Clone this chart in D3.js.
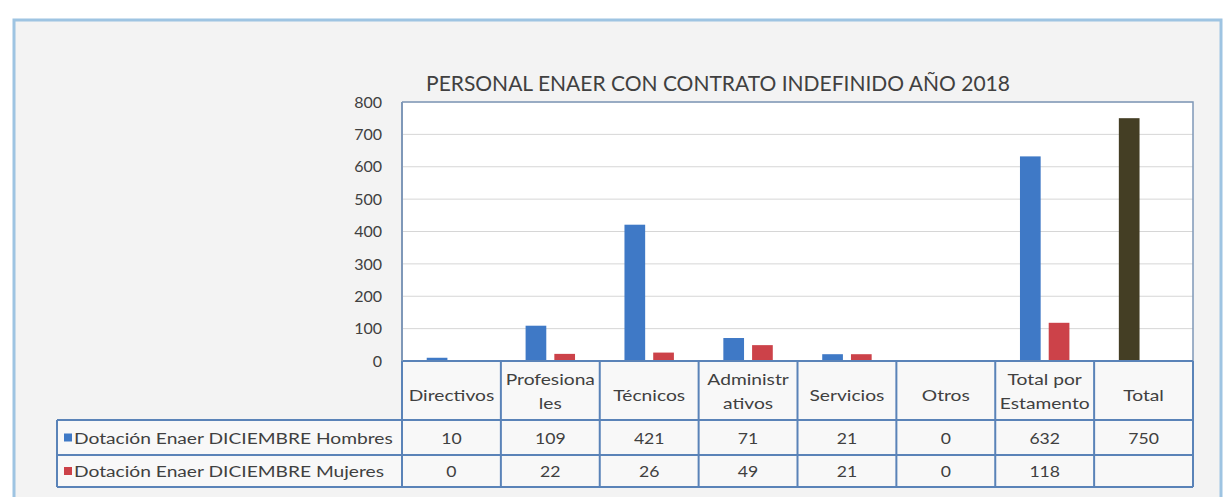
<!DOCTYPE html>
<html>
<head>
<meta charset="utf-8">
<script src="https://cdn.jsdelivr.net/npm/d3@7/dist/d3.min.js"></script>
<style>
  body { margin: 0; background: #fff; }
  svg { display: block; font-family: Lato, "Open Sans", sans-serif; }
</style>
</head>
<body>
<svg id="chart" width="1227" height="497"></svg>
<script>
// data
const title = 'PERSONAL ENAER CON CONTRATO INDEFINIDO AÑO 2018';
const categories = ['Directivos', 'Profesionales', 'Técnicos', 'Administrativos', 'Servicios', 'Otros', 'Total por Estamento', 'Total'];
const categoryLines = [['Directivos'], ['Profesiona', 'les'], ['Técnicos'], ['Administr', 'ativos'], ['Servicios'], ['Otros'], ['Total por', 'Estamento'], ['Total']];
const seriesNames = ['Dotación Enaer DICIEMBRE Hombres', 'Dotación Enaer DICIEMBRE Mujeres'];
const hombres = [10, 109, 421, 71, 21, 0, 632, 750];
const mujeres = [0, 22, 26, 49, 21, 0, 118, null];
const yTicks = [0, 100, 200, 300, 400, 500, 600, 700, 800];

const colors = ['#3f79c6', '#cc4249'];
const totalColor = '#443e24';
const textColor = '#404040';
const lineColor = '#5a83b8';

const svg = d3.select('#chart');

// plot box
const plot = { left: 402, right: 1193, top: 102, bottom: 361 };
const rowsY = [361, 420, 455, 487]; // header row, hombres row, mujeres row
const legendLeft = 57;

// the table text in the picture is wide, so stretch it a bit
function wideText(g, x, y, str, size, sx, anchor) {
  return g.append('text')
    .attr('transform', `translate(${x},${y}) scale(${sx},1)`)
    .attr('text-anchor', anchor || 'start')
    .attr('fill', textColor)
    .style('font-size', size + 'px')
    .text(str);
}

// outer frame
svg.append('rect')
  .attr('x', 14).attr('y', 20)
  .attr('width', 1207).attr('height', 500)
  .attr('fill', '#f3f3f3')
  .attr('stroke', '#9ec4e2')
  .attr('stroke-width', 3);

const x0 = d3.scaleBand()
  .domain(categories)
  .range([plot.left, plot.right])
  .padding(0);

const x1 = d3.scaleBand()
  .domain([0, 1])
  .range([x0.bandwidth() * 0.25, x0.bandwidth() * 0.75])
  .paddingInner(0.28);

const y = d3.scaleLinear()
  .domain([0, 800])
  .range([plot.bottom, plot.top]);

// plot background
svg.append('rect')
  .attr('x', plot.left).attr('y', plot.top)
  .attr('width', plot.right - plot.left).attr('height', plot.bottom - plot.top)
  .attr('fill', '#fff');

// gridlines
svg.append('g')
  .selectAll('line')
  .data(yTicks.filter(d => d > 0))
  .join('line')
  .attr('x1', plot.left).attr('x2', plot.right)
  .attr('y1', d => y(d)).attr('y2', d => y(d))
  .attr('stroke', '#d6d6d6')
  .attr('stroke-width', 1);

// y axis labels
const yAxis = svg.append('g')
  .attr('transform', `translate(${plot.left},0)`)
  .call(d3.axisLeft(y).tickValues(yTicks).tickSize(0).tickPadding(20));
yAxis.select('.domain').remove();
yAxis.selectAll('text')
  .attr('fill', textColor)
  .style('font-size', '16px')
  .style('font-family', 'Lato, sans-serif');

// bars
const series = [hombres, mujeres];
const barData = [];
series.forEach((vals, s) => {
  vals.forEach((v, i) => {
    if (v == null) return;
    barData.push({ cat: categories[i], s: s, v: v });
  });
});

svg.append('g')
  .selectAll('rect')
  .data(barData)
  .join('rect')
  .attr('x', d => x0(d.cat) + x1(d.s))
  .attr('y', d => y(d.v))
  .attr('width', x1.bandwidth())
  .attr('height', d => y(0) - y(d.v))
  .attr('fill', d => (d.cat === 'Total' ? totalColor : colors[d.s]));

// plot border (top, right)
svg.append('path')
  .attr('d', `M${plot.left},${plot.top}H${plot.right}V${plot.bottom}`)
  .attr('fill', 'none')
  .attr('stroke', '#7f98b8')
  .attr('stroke-width', 1.5);

// title
svg.append('text')
  .attr('x', 718).attr('y', 91)
  .attr('text-anchor', 'middle')
  .attr('fill', textColor)
  .style('font-size', '21px')
  .text(title);

// data table
const table = svg.append('g');

// cell backgrounds
table.append('rect')
  .attr('x', plot.left).attr('y', rowsY[0])
  .attr('width', plot.right - plot.left).attr('height', rowsY[3] - rowsY[0])
  .attr('fill', '#f8f8f8');
table.append('rect')
  .attr('x', legendLeft).attr('y', rowsY[1])
  .attr('width', plot.left - legendLeft).attr('height', rowsY[3] - rowsY[1])
  .attr('fill', '#f8f8f8');

// horizontal lines
table.append('line')
  .attr('x1', plot.left).attr('x2', plot.right)
  .attr('y1', rowsY[0]).attr('y2', rowsY[0])
  .attr('stroke', lineColor).attr('stroke-width', 2);
table.selectAll('line.h')
  .data(rowsY.slice(1))
  .join('line')
  .attr('class', 'h')
  .attr('x1', legendLeft).attr('x2', plot.right)
  .attr('y1', d => d).attr('y2', d => d)
  .attr('stroke', lineColor).attr('stroke-width', 2);

// vertical lines
const colEdges = categories.map(c => x0(c)).concat([plot.right]);
table.selectAll('line.v')
  .data(colEdges)
  .join('line')
  .attr('class', 'v')
  .attr('x1', d => d).attr('x2', d => d)
  .attr('y1', rowsY[0]).attr('y2', rowsY[3])
  .attr('stroke', lineColor).attr('stroke-width', 2);
table.append('line')
  .attr('x1', plot.left).attr('x2', plot.left)
  .attr('y1', plot.top).attr('y2', rowsY[0])
  .attr('stroke', '#7f98b8').attr('stroke-width', 2);
table.append('line')
  .attr('x1', legendLeft).attr('x2', legendLeft)
  .attr('y1', rowsY[1]).attr('y2', rowsY[3])
  .attr('stroke', lineColor).attr('stroke-width', 2);

// header labels
categoryLines.forEach((lines, i) => {
  const cx = x0(categories[i]) + x0.bandwidth() / 2;
  const lh = 24;
  const startY = lines.length === 1 ? 401 : 385;
  lines.forEach((ln, k) => {
    wideText(table, cx, startY + k * lh, ln, 15, 1.28, 'middle');
  });
});

// rows: legend key + values
series.forEach((vals, s) => {
  const mid = (rowsY[s + 1] + rowsY[s + 2]) / 2;
  table.append('rect')
    .attr('x', 64).attr('y', mid - 4)
    .attr('width', 8).attr('height', 8)
    .attr('fill', colors[s]);
  wideText(table, 74, mid + 6, seriesNames[s], 16, 1.2, 'start');
  vals.forEach((v, i) => {
    if (v == null) return;
    wideText(table, x0(categories[i]) + x0.bandwidth() / 2, mid + 6, v, 16, 1.1, 'middle');
  });
});
</script>
</body>
</html>
